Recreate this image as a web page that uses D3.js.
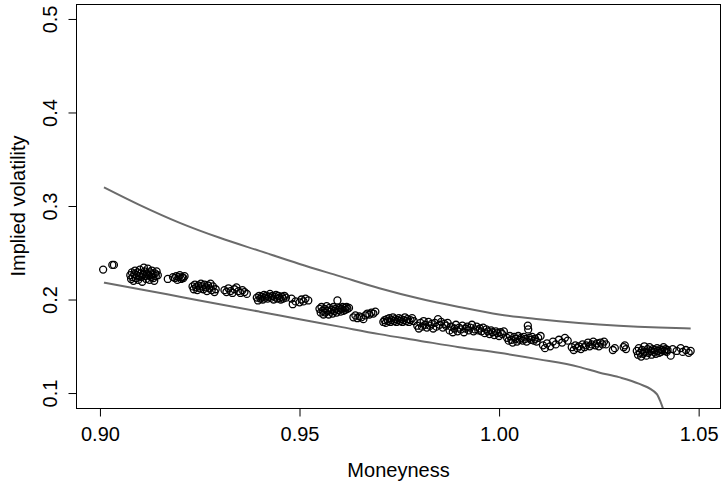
<!DOCTYPE html>
<html>
<head>
<meta charset="utf-8">
<script src="https://cdn.jsdelivr.net/npm/d3@7"></script>
<style>
	body { margin: 0; background: #fff; }
	text { font-family: "Liberation Sans", Arial, sans-serif; fill: #000; }
</style>
</head>
<body>
<div id="graph"></div>
<script>
var width = 722;
var height = 483;

var mny = [
	0.9008, 0.9031, 0.9035,
	0.9076, 0.9078, 0.9080, 0.9082, 0.9084, 0.9086, 0.9088, 0.9090, 0.9092, 0.9094, 0.9096, 0.9098,
	0.9100, 0.9102, 0.9104, 0.9106, 0.9108, 0.9110, 0.9112, 0.9114, 0.9116, 0.9118, 0.9120, 0.9122,
	0.9124, 0.9126, 0.9128, 0.9130, 0.9132, 0.9134, 0.9136, 0.9138, 0.9140, 0.9142, 0.9145,
	0.9170, 0.9183, 0.9188, 0.9191, 0.9194, 0.9197, 0.9200, 0.9203, 0.9206, 0.9209, 0.9212,
	0.9232, 0.9235, 0.9238, 0.9241, 0.9244, 0.9247, 0.9250, 0.9253, 0.9256, 0.9259, 0.9262, 0.9265,
	0.9268, 0.9271, 0.9274, 0.9277, 0.9280, 0.9283, 0.9287, 0.9290,
	0.9312, 0.9317, 0.9322, 0.9327, 0.9332, 0.9337, 0.9342, 0.9347, 0.9352, 0.9357, 0.9362, 0.9368,
	0.9393, 0.9396, 0.9399, 0.9402, 0.9405, 0.9408, 0.9411, 0.9414, 0.9417, 0.9420, 0.9423, 0.9426,
	0.9429, 0.9432, 0.9435, 0.9438, 0.9441, 0.9444, 0.9447, 0.9450, 0.9453, 0.9456, 0.9459, 0.9462, 0.9466,
	0.9480, 0.9483, 0.9490, 0.9500, 0.9505, 0.9510, 0.9515, 0.9522,
	0.9550, 0.9553, 0.9555, 0.9558, 0.9560, 0.9563, 0.9565, 0.9568, 0.9570, 0.9573, 0.9575, 0.9578,
	0.9580, 0.9583, 0.9585, 0.9588, 0.9590, 0.9593, 0.9595, 0.9598, 0.9600, 0.9603, 0.9605, 0.9608,
	0.9610, 0.9613, 0.9615, 0.9618, 0.9620, 0.9624,
	0.9635, 0.9640, 0.9645, 0.9650, 0.9655, 0.9660, 0.9665, 0.9670, 0.9675, 0.9680, 0.9685, 0.9690,
	0.9710, 0.9713, 0.9716, 0.9719, 0.9722, 0.9725, 0.9728, 0.9731, 0.9734, 0.9737, 0.9740, 0.9743,
	0.9746, 0.9749, 0.9752, 0.9755, 0.9758, 0.9761, 0.9764, 0.9767, 0.9770, 0.9774, 0.9778, 0.9782, 0.9786,
	0.9795, 0.9799, 0.9803, 0.9807, 0.9811, 0.9815, 0.9819, 0.9823, 0.9827, 0.9831, 0.9835, 0.9839,
	0.9843, 0.9847, 0.9851, 0.9855, 0.9859, 0.9863, 0.9867, 0.9871,
	0.9876, 0.9880, 0.9884, 0.9888, 0.9892, 0.9896, 0.9900, 0.9904, 0.9908, 0.9912, 0.9916, 0.9920,
	0.9924, 0.9928, 0.9932, 0.9936, 0.9940, 0.9944, 0.9948, 0.9952, 0.9956, 0.9960, 0.9964, 0.9968,
	0.9972, 0.9976, 0.9980, 0.9984, 0.9988, 0.9992, 0.9996, 1.0000, 1.0004, 1.0008, 1.0012,
	1.0020, 1.0024, 1.0027, 1.0031, 1.0034, 1.0038, 1.0041, 1.0045, 1.0048, 1.0052, 1.0055, 1.0059,
	1.0062, 1.0066, 1.0069, 1.0072, 1.0073, 1.0076, 1.0080, 1.0083, 1.0087, 1.0090, 1.0094, 1.0098, 1.0104,
	1.0110, 1.0115, 1.0120, 1.0128, 1.0135, 1.0142, 1.0150, 1.0158, 1.0165, 1.0172,
	1.0182, 1.0187, 1.0191, 1.0196, 1.0200, 1.0205, 1.0209, 1.0214, 1.0218, 1.0223, 1.0227, 1.0232,
	1.0236, 1.0241, 1.0245, 1.0250, 1.0254, 1.0259, 1.0263, 1.0268,
	1.0285, 1.0290, 1.0312, 1.0315, 1.0318,
	1.0345, 1.0348, 1.0350, 1.0353, 1.0356, 1.0358, 1.0361, 1.0364, 1.0366, 1.0369, 1.0372, 1.0374,
	1.0377, 1.0380, 1.0382, 1.0385, 1.0388, 1.0390, 1.0393, 1.0396, 1.0398, 1.0401, 1.0404, 1.0406,
	1.0409, 1.0412, 1.0414, 1.0417, 1.0420, 1.0422,
	1.0430, 1.0435, 1.0445, 1.0455, 1.0460, 1.0468, 1.0475, 1.0480
];
var iv = [
	0.232, 0.237, 0.237,
	0.226, 0.222, 0.229, 0.224, 0.220, 0.227, 0.231, 0.223, 0.226, 0.229, 0.221, 0.225,
	0.232, 0.228, 0.224, 0.219, 0.227, 0.234, 0.230, 0.225, 0.222, 0.228, 0.233, 0.226,
	0.221, 0.229, 0.224, 0.231, 0.227, 0.223, 0.220, 0.228, 0.225, 0.230, 0.226,
	0.222, 0.224, 0.223, 0.225, 0.221, 0.224, 0.226, 0.222, 0.224, 0.223, 0.225,
	0.214, 0.211, 0.216, 0.213, 0.210, 0.215, 0.212, 0.217, 0.214, 0.211, 0.216, 0.213,
	0.209, 0.215, 0.212, 0.217, 0.210, 0.214, 0.208, 0.211,
	0.210, 0.208, 0.212, 0.209, 0.207, 0.211, 0.213, 0.209, 0.207, 0.210, 0.208, 0.206,
	0.202, 0.199, 0.204, 0.201, 0.203, 0.200, 0.205, 0.202, 0.204, 0.201, 0.203, 0.206,
	0.202, 0.204, 0.200, 0.203, 0.205, 0.201, 0.204, 0.202, 0.200, 0.203, 0.201, 0.204, 0.202,
	0.201, 0.195, 0.198, 0.197, 0.200, 0.198, 0.201, 0.199,
	0.190, 0.186, 0.192, 0.188, 0.184, 0.190, 0.186, 0.193, 0.188, 0.184, 0.191, 0.187,
	0.189, 0.185, 0.192, 0.188, 0.190, 0.186, 0.199, 0.189, 0.191, 0.187, 0.190, 0.192,
	0.188, 0.191, 0.189, 0.192, 0.190, 0.191,
	0.181, 0.183, 0.180, 0.182, 0.181, 0.179, 0.183, 0.185, 0.184, 0.186, 0.185, 0.187,
	0.176, 0.178, 0.175, 0.179, 0.177, 0.180, 0.176, 0.178, 0.181, 0.177, 0.179, 0.176,
	0.178, 0.180, 0.177, 0.179, 0.176, 0.178, 0.181, 0.177, 0.179, 0.176, 0.178, 0.180, 0.177,
	0.172, 0.169, 0.175, 0.171, 0.177, 0.173, 0.170, 0.176, 0.172, 0.174, 0.169, 0.175,
	0.171, 0.179, 0.173, 0.176, 0.170, 0.174, 0.172, 0.175,
	0.167, 0.171, 0.165, 0.169, 0.173, 0.166, 0.170, 0.168, 0.172, 0.165, 0.169, 0.171,
	0.167, 0.170, 0.173, 0.166, 0.168, 0.171, 0.167, 0.169, 0.166, 0.170, 0.164, 0.168,
	0.166, 0.163, 0.167, 0.165, 0.162, 0.166, 0.164, 0.161, 0.165, 0.163, 0.166,
	0.159, 0.156, 0.161, 0.157, 0.154, 0.160, 0.158, 0.155, 0.161, 0.157, 0.159, 0.156,
	0.160, 0.158, 0.155, 0.172, 0.168, 0.159, 0.157, 0.160, 0.156, 0.158, 0.155, 0.159, 0.161,
	0.151, 0.148, 0.153, 0.150, 0.155, 0.152, 0.157, 0.154, 0.159, 0.156,
	0.149, 0.146, 0.151, 0.148, 0.150, 0.147, 0.152, 0.149, 0.151, 0.154, 0.150, 0.152,
	0.155, 0.151, 0.153, 0.150, 0.154, 0.152, 0.155, 0.152,
	0.146, 0.148, 0.149, 0.151, 0.147,
	0.145, 0.141, 0.148, 0.143, 0.139, 0.146, 0.142, 0.150, 0.144, 0.140, 0.147, 0.143,
	0.149, 0.145, 0.141, 0.147, 0.144, 0.146, 0.142, 0.148, 0.145, 0.143, 0.147, 0.144,
	0.146, 0.149, 0.145, 0.147, 0.144, 0.146,
	0.140, 0.147, 0.145, 0.148, 0.144, 0.146, 0.143, 0.145
];

// bound curves
var upperM = [0.901, 0.910, 0.920, 0.930, 0.940, 0.950, 0.960, 0.970, 0.980, 0.990, 1.000, 1.010, 1.020, 1.030, 1.040, 1.048];
var upperV = [0.320, 0.301, 0.282, 0.266, 0.252, 0.238, 0.225, 0.212, 0.201, 0.192, 0.184, 0.179, 0.175, 0.172, 0.170, 0.169];
var lowerM = [0.901, 0.910, 0.920, 0.930, 0.940, 0.950, 0.960, 0.970, 0.980, 0.990, 1.000, 1.010, 1.020, 1.025, 1.030, 1.035, 1.0395, 1.0405, 1.0415];
var lowerV = [0.218, 0.211, 0.203, 0.195, 0.187, 0.179, 0.171, 0.163, 0.156, 0.149, 0.143, 0.136, 0.128, 0.122, 0.117, 0.110, 0.099, 0.090, 0.078];

var xTicks = [0.90, 0.95, 1.00, 1.05];
var yTicks = [0.1, 0.2, 0.3, 0.4, 0.5];

var plotLeft = 76, plotRight = 721, plotTop = 4, plotBottom = 408;

var xScale = d3.scaleLinear().domain([0.894, 1.0556]).range([plotLeft, plotRight]);
var yScale = d3.scaleLinear().domain([0.084, 0.516]).range([plotBottom, plotTop]);

var svg = d3.select("#graph")
	.append("svg")
	.attr("width", width)
	.attr("height", height);

svg.append("clipPath")
	.attr("id", "plotclip")
	.append("rect")
	.attr("x", plotLeft).attr("y", plotTop)
	.attr("width", plotRight - plotLeft).attr("height", plotBottom - plotTop);

var plot = svg.append("g").attr("clip-path", "url(#plotclip)");

var line = d3.line()
	.x(function (d) { return xScale(d[0]); })
	.y(function (d) { return yScale(d[1]); })
	.curve(d3.curveMonotoneX);

plot.append("path")
	.datum(d3.zip(upperM, upperV))
	.attr("d", line)
	.attr("fill", "none")
	.attr("stroke", "#6b6b6b")
	.attr("stroke-width", 2);

plot.append("path")
	.datum(d3.zip(lowerM, lowerV))
	.attr("d", line)
	.attr("fill", "none")
	.attr("stroke", "#6b6b6b")
	.attr("stroke-width", 2);

plot.selectAll("circle")
	.data(d3.zip(mny, iv))
	.enter()
	.append("circle")
	.attr("cx", function (d) { return xScale(d[0]); })
	.attr("cy", function (d) { return yScale(d[1]); })
	.attr("r", 3.5)
	.attr("fill", "none")
	.attr("stroke", "#000")
	.attr("stroke-width", 1.3);

// box
svg.append("rect")
	.attr("x", plotLeft + 0.5).attr("y", plotTop + 0.5)
	.attr("width", plotRight - plotLeft - 1).attr("height", plotBottom - plotTop)
	.attr("fill", "none")
	.attr("stroke", "#000");

// x axis
var xAxis = d3.axisBottom(xScale)
	.tickValues(xTicks)
	.tickSize(8)
	.tickFormat(d3.format(".2f"));
var gx = svg.append("g")
	.attr("transform", "translate(0," + (plotBottom + 0.5) + ")")
	.call(xAxis);
gx.select(".domain").remove();
gx.selectAll("text")
	.attr("y", 32)
	.attr("dy", 0)
	.style("font-size", "20px")
	.style("font-family", "Liberation Sans, Arial, sans-serif");

// y axis, labels turned like R does
var yAxis = d3.axisLeft(yScale)
	.tickValues(yTicks)
	.tickSize(8)
	.tickFormat(d3.format(".1f"));
var gy = svg.append("g")
	.attr("transform", "translate(" + (plotLeft + 0.5) + ",0)")
	.call(yAxis);
gy.select(".domain").remove();
gy.selectAll(".tick text")
	.attr("x", 0)
	.attr("y", 0)
	.attr("dy", 0)
	.attr("text-anchor", "middle")
	.attr("transform", "translate(-20,0) rotate(-90)")
	.style("font-size", "20px")
	.style("font-family", "Liberation Sans, Arial, sans-serif");

svg.append("text")
	.attr("x", (plotLeft + plotRight) / 2)
	.attr("y", 477)
	.attr("text-anchor", "middle")
	.style("font-size", "20px")
	.text("Moneyness");

svg.append("text")
	.attr("transform", "translate(25," + ((plotTop + plotBottom) / 2) + ") rotate(-90)")
	.attr("text-anchor", "middle")
	.style("font-size", "20px")
	.text("Implied volatility");
</script>
</body>
</html>
